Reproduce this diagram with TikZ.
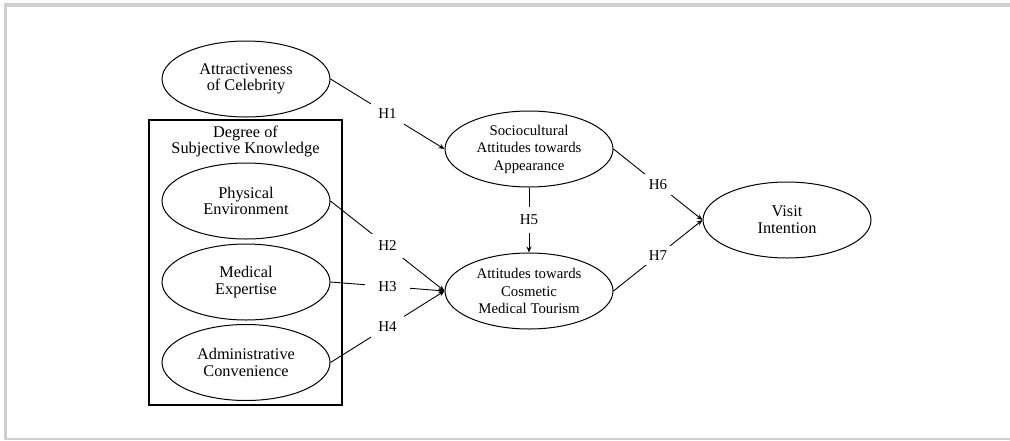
\documentclass[tikz,border=0pt]{standalone}
\usepackage{fontspec}
\setmainfont{Liberation Serif}
\usetikzlibrary{arrows.meta,shapes.geometric}
\definecolor{framegray}{HTML}{CFCFCF}
\begin{document}
\begin{tikzpicture}[x=1pt,y=-1pt,
  construct/.style={draw,line width=1pt,ellipse,minimum width=168pt,minimum height=76pt,inner sep=0pt,align=center,font=\fontsize{16.3}{16.7}\selectfont},
  central/.style={construct,font=\fontsize{14.8}{17.5}\selectfont},
  hlabel/.style={fill=white,inner sep=7pt,font=\fontsize{15}{17}\selectfont},
  path/.style={line width=0.9pt,-{Stealth[length=6pt,width=5pt]}},
  grp/.style={draw,line width=1.1pt}]
\useasboundingbox (0,0) rectangle (1010,440);
\fill[framegray] (4,3) rectangle (1010,7);
\fill[framegray] (4,3) rectangle (7,440);
\fill[framegray] (4,437.5) rectangle (1010,440);
% group box
\node[grp,minimum width=193pt,minimum height=285pt,inner sep=0pt] (box) at (245.5,262.5) {};
\node[align=center,font=\fontsize{16.3}{16}\selectfont,anchor=north] (boxtitle) at (245.5,122) {Degree of\\Subjective Knowledge};
% constructs
\node[construct] (ac) at (246,79) {Attractiveness\\of Celebrity};
\node[construct] (pe) at (246,201) {Physical\\Environment};
\node[construct] (me) at (246,282) {Medical\\Expertise};
\node[construct] (ad) at (246,362.5) {Administrative\\Convenience};
\node[central] (sc) at (529,149) {Sociocultural\\Attitudes towards\\Appearance};
\node[central] (at) at (529,291) {Attitudes towards\\Cosmetic\\Medical Tourism};
\node[construct] (vi) at (787,220) {Visit\\Intention};
% paths
\draw[path] (ac.east) -- node[hlabel] (h1) {H1} (sc.west);
\draw[path] (pe.east) -- node[hlabel] (h2) {H2} (at.west);
\draw[path] (me.east) -- node[hlabel,inner xsep=13pt] (h3) {H3} (at.west);
\draw[path] (ad.east) -- node[hlabel] (h4) {H4} (at.west);
\draw[path] (sc.south) -- node[hlabel,inner ysep=8pt] (h5) {H5} (at.north);
\draw[path] (sc.east) -- node[hlabel,inner sep=5pt] (h6) {H6} (vi.west);
\draw[path] (at.east) -- node[hlabel,inner sep=5pt] (h7) {H7} (vi.west);
\end{tikzpicture}
\end{document}
